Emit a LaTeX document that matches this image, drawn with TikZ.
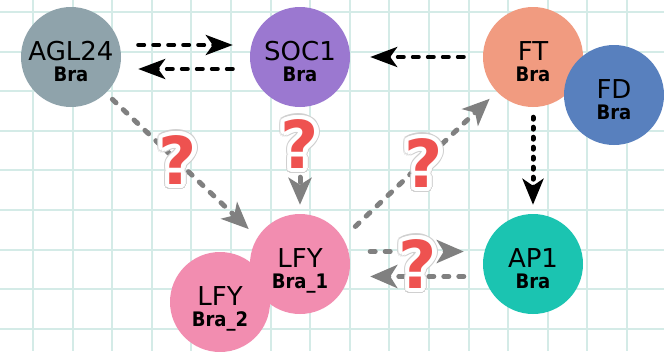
\documentclass[tikz,border=0pt]{standalone}
\usepackage{fontspec}
\setmainfont{DejaVu Sans}
\newfontfamily\condfont{DejaVu Sans Condensed}
\newfontfamily\qfont{DejaVu Sans Bold}
\usetikzlibrary{arrows.meta,calc}

\definecolor{gridteal}{RGB}{212,235,231}
\definecolor{aglc}{RGB}{143,163,171}
\definecolor{socc}{RGB}{155,120,208}
\definecolor{ftc}{RGB}{241,155,128}
\definecolor{fdc}{RGB}{88,128,190}
\definecolor{apc}{RGB}{27,196,177}
\definecolor{lfyc}{RGB}{242,141,176}
\definecolor{arrowgray}{RGB}{128,128,128}
\definecolor{qred}{RGB}{238,82,80}
\definecolor{qedge}{RGB}{208,208,208}

\tikzset{
  gridline/.style={draw=gridteal, line width=2pt},
  gene/.style={circle, minimum size=100pt, inner sep=0pt},
  mainlbl/.style={anchor=base, inner sep=0pt, font=\fontsize{26}{26}\selectfont},
  sublbl/.style={anchor=base, inner sep=0pt, font=\condfont\bfseries\fontsize{20}{20}\selectfont},
  blackarrow/.style={draw=black, line width=4pt, line cap=round,
    dash pattern=on 6pt off 9pt,
    -{Stealth[length=27pt, width=20pt, inset=7pt]}},
  blackdots/.style={draw=black, line width=5pt, line cap=round,
    dash pattern=on 2pt off 8pt,
    -{Stealth[length=26pt, width=21pt, inset=7pt]}},
  grayarrow/.style={draw=arrowgray, line width=5pt, line cap=round,
    dash pattern=on 5pt off 10pt,
    -{Stealth[length=27pt, width=23pt, inset=7pt]}},
  qglyph/.style={inner sep=0pt, font=\qfont\fontsize{66}{66}\selectfont},
}

% a gene: coloured disc with its name and a bold "Bra" tag below
\newcommand\genenode[5]{%
  \node[gene, fill=#3] (#1) at (#2) {};
  \node[mainlbl] (#1-name) at ($(#1.center)+(0,3)$) {#4};
  \node[sublbl] (#1-tag) at ($(#1.center)+(0,24)$) {#5};
}

% red question mark with a white sticker outline
\newcommand\qmark[2]{%
  \foreach \a in {0,22.5,...,337.5} {\node[qglyph, text=qedge] at ($(#2)+(\a:5.5pt)$) {?};}
  \foreach \a in {0,22.5,...,337.5} {\node[qglyph, text=white] at ($(#2)+(\a:4.3pt)$) {?};}
  \node[qglyph, text=qred] (#1) at (#2) {?};
}

\begin{document}
\begin{tikzpicture}[x=1pt, y=-1pt]
  \useasboundingbox (0,0) rectangle (664,351);
  \fill[white] (0,0) rectangle (664,351);

  % squared paper
  \foreach \i in {0,...,16} {\draw[gridline] ({33+39.6*\i},0) -- ({33+39.6*\i},351);}
  \foreach \j in {0,...,8} {\draw[gridline] (0,{12+39.6*\j}) -- (664,{12+39.6*\j});}

  % genes
  \genenode{agl}{71,57}{aglc}{AGL24}{Bra}
  \genenode{soc}{300,57}{socc}{SOC1}{Bra}
  \genenode{ft}{533,57}{ftc}{FT}{Bra}
  \genenode{fd}{614,95}{fdc}{FD}{Bra}
  \genenode{ap}{533,264}{apc}{AP1}{Bra}
  \genenode{lfya}{300,264}{lfyc}{LFY}{Bra\_1}
  \genenode{lfyb}{220,302}{lfyc}{LFY}{Bra\_2}

  % known interactions
  \draw[blackarrow, shorten <=17pt, shorten >=17pt]
    ([yshift=12pt]agl.east) -- ([yshift=12pt]soc.west);
  \draw[blackarrow, shorten <=17pt, shorten >=17pt]
    ([yshift=-12pt]soc.west) -- ([yshift=-12pt]agl.east);
  \draw[blackarrow, shorten <=19pt, shorten >=20pt] (ft.west) -- (soc.east);
  \draw[blackdots, shorten <=10pt, shorten >=9pt] (ft.south) -- (ap.north);

  % putative interactions
  \draw[grayarrow, shorten <=9pt, shorten >=12pt] (agl.-46) -- (lfya.148);
  \draw[grayarrow, shorten <=10pt, shorten >=9pt] (soc.south) -- (lfya.north);
  \draw[grayarrow, shorten <=17pt, shorten >=10pt] (lfya.31) -- (ft.224);
  \draw[grayarrow, shorten <=20pt, shorten >=19pt]
    ([yshift=12.5pt]lfya.east) -- ([yshift=12.5pt]ap.west);
  \draw[grayarrow, shorten <=19pt, shorten >=20pt]
    ([yshift=-12.5pt]ap.west) -- ([yshift=-12.5pt]lfya.east);

  % question marks on the putative links
  \qmark{q1}{178,160}
  \qmark{q2}{300,144}
  \qmark{q3}{424,163}
  \qmark{q4}{418,264}
\end{tikzpicture}
\end{document}
